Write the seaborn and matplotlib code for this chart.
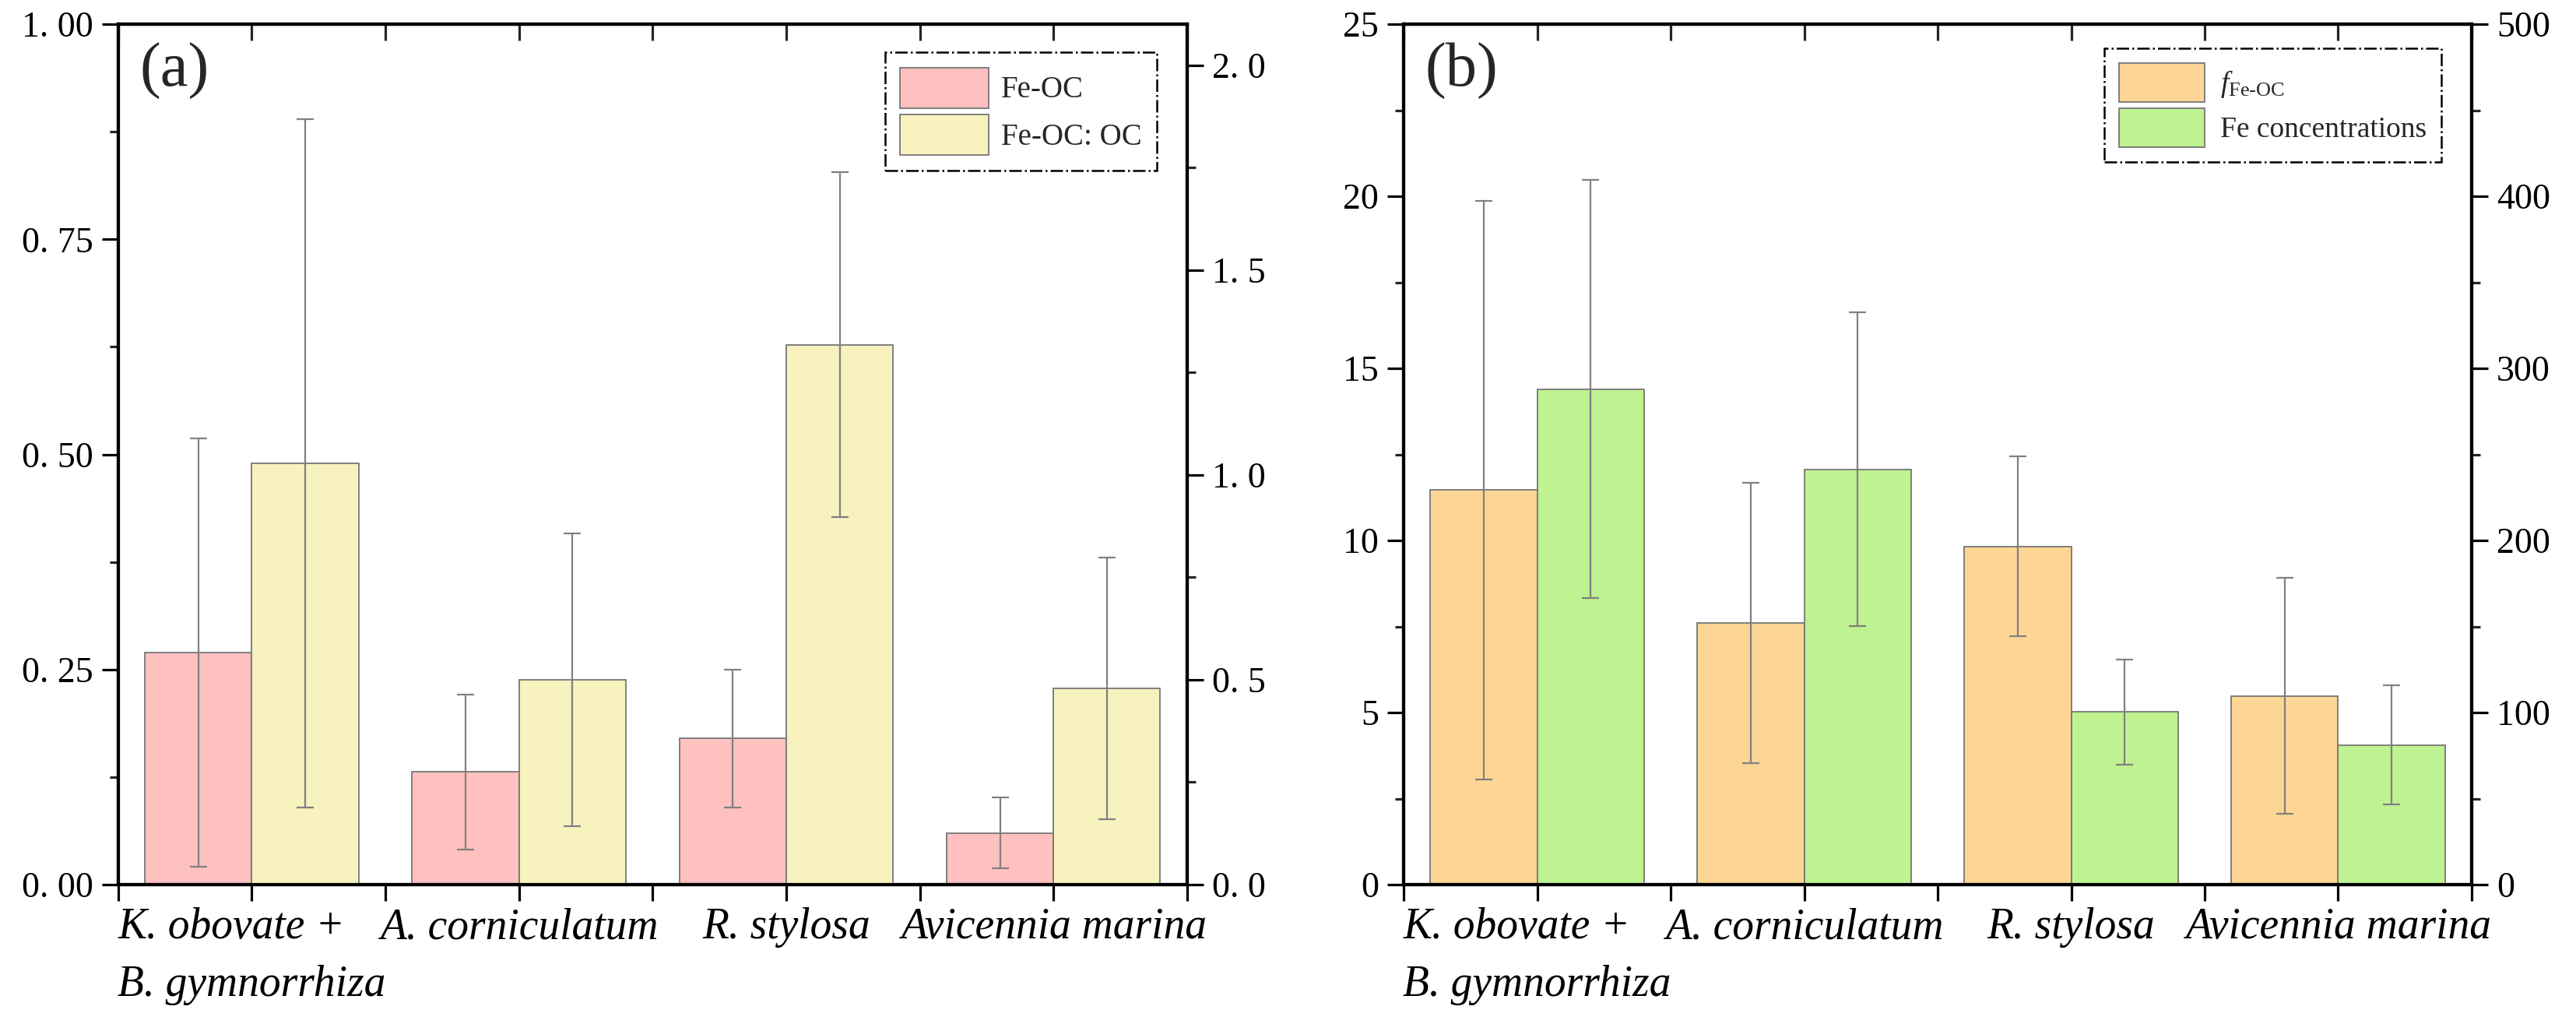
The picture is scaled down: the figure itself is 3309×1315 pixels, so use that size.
import numpy as np
import pandas as pd
import matplotlib
matplotlib.use("Agg")
import matplotlib.pyplot as plt
import seaborn as sns
from matplotlib.patches import Patch
from matplotlib.ticker import MultipleLocator

sns.set_theme(style="ticks")
plt.rcParams["font.family"] = ["Liberation Serif", "DejaVu Serif"]
plt.rcParams["mathtext.fontset"] = "custom"
plt.rcParams["mathtext.rm"] = "Liberation Serif"
plt.rcParams["mathtext.it"] = "Liberation Serif:italic"

# categories
species = ["K. obovate +\nB. gymnorrhiza", "A. corniculatum", "R. stylosa", "Avicennia marina"]

# panel (a): Fe-OC on the left axis, Fe-OC: OC on the right axis
fe_oc = [0.270, 0.131, 0.170, 0.060]
fe_oc_err = [0.249, 0.090, 0.080, 0.041]
fe_oc_ratio = [1.028, 0.500, 1.318, 0.479]
fe_oc_ratio_err = [0.840, 0.358, 0.421, 0.320]

# panel (b): f Fe-OC on the left axis, Fe concentrations on the right axis
f_fe_oc = [11.46, 7.60, 9.83, 5.48]
f_fe_oc_err = [8.41, 4.08, 2.61, 3.43]
fe_conc = [287.9, 241.3, 100.3, 81.1]
fe_conc_err = [121.5, 91.2, 30.4, 34.7]

# tick labels
a_left_ticks = [0, 0.25, 0.5, 0.75, 1.0]
a_left_labels = ["0. 00", "0. 25", "0. 50", "0. 75", "1. 00"]
a_right_ticks = [0, 0.5, 1.0, 1.5, 2.0]
a_right_labels = ["0. 0", "0. 5", "1. 0", "1. 5", "2. 0"]
b_left_ticks = [0, 5, 10, 15, 20, 25]
b_left_labels = ["0", "5", "10", "15", "20", "25"]
b_right_ticks = [0, 100, 200, 300, 400, 500]
b_right_labels = ["0", "100", "200", "300", "400", "500"]

EDGE = "#767676"
ERR = "#808080"
SPINE_W = 3.0
TICK_W = 2.3
TICK_L = 15


def draw_bars(ax, name, vals, errs, hue_order, palette):
    df = pd.DataFrame({"species": species, "series": name, "value": vals})
    sns.barplot(data=df, x="species", y="value", hue="series", hue_order=hue_order,
                order=species, palette=palette, width=0.8, dodge=True, errorbar=None,
                saturation=1, edgecolor=EDGE, linewidth=1.3, legend=False, ax=ax)
    centers = sorted(p.get_x() + p.get_width() / 2 for p in ax.patches)
    ax.errorbar(centers, vals, yerr=errs, fmt="none", ecolor=ERR, elinewidth=1.6,
                capsize=8, capthick=1.6, zorder=5)


def panel(ax, names, colors, lvals, lerr, rvals, rerr, lticks, llabels, rticks, rlabels,
          rtop, tag, leg_labels, leg_anchor, leg_size, leg_textpad):
    palette = dict(zip(names, colors))
    draw_bars(ax, names[0], lvals, lerr, names, palette)
    ax2 = ax.twinx()
    draw_bars(ax2, names[1], rvals, rerr, names, palette)

    ax.set_xlim(-0.5, 3.5)
    ax.set_ylim(lticks[0], lticks[-1])
    ax2.set_ylim(rticks[0], rtop)
    ax.set_xlabel("")
    ax.set_ylabel("")
    ax2.set_ylabel("")

    ax.set_xticks(range(len(species)), species)
    ax.set_xticks(np.arange(-0.5, 3.6, 1.0), minor=True)
    ax.tick_params(axis="x", which="both", direction="out", length=TICK_L, width=TICK_W,
                   top=False, labelsize=40, pad=6, colors="black")
    for lbl in ax.get_xticklabels():
        lbl.set_fontstyle("italic")
        lbl.set_multialignment("left")
        lbl.set_linespacing(1.55)

    sec = ax.secondary_xaxis("top")
    sec.set_xticks(np.arange(-0.5, 3.6, 0.5))
    sec.tick_params(direction="in", length=TICK_L, width=TICK_W, labeltop=False)
    sec.spines["top"].set_linewidth(SPINE_W)

    ax.set_yticks(lticks, llabels)
    ax.yaxis.set_minor_locator(MultipleLocator((lticks[1] - lticks[0]) / 2))
    ax2.set_yticks(rticks, rlabels)
    ax2.yaxis.set_minor_locator(MultipleLocator((rticks[1] - rticks[0]) / 2))
    for a in (ax, ax2):
        a.tick_params(axis="y", which="major", direction="out", length=TICK_L,
                      width=TICK_W, labelsize=33, pad=8, colors="black")
        a.tick_params(axis="y", which="minor", direction="out", length=8, width=TICK_W)
        for s in a.spines.values():
            s.set_linewidth(SPINE_W)
            s.set_color("black")
    ax2.xaxis.set_visible(False)

    ax.text(0.02, 0.978, tag, transform=ax.transAxes, fontsize=58, ha="left", va="top")

    handles = [Patch(facecolor=c, edgecolor=EDGE, linewidth=1.3, label=l)
               for c, l in zip(colors, leg_labels)]
    leg = ax2.legend(handles=handles, loc="upper right", bbox_to_anchor=leg_anchor,
                     borderaxespad=0, fontsize=leg_size, handlelength=2.93, handleheight=1.7,
                     handletextpad=leg_textpad, labelspacing=0.2, borderpad=0.5,
                     fancybox=False, framealpha=1, edgecolor="black")
    leg.get_frame().set_linestyle("-.")
    leg.get_frame().set_linewidth(1.8)


fig = plt.figure(figsize=(33.09, 13.15), dpi=100)
ax_a = fig.add_axes([0.0459, 0.1361, 0.4149, 0.8403])
ax_b = fig.add_axes([0.5449, 0.1361, 0.4146, 0.8403])

panel(ax_a, ["Fe-OC", "Fe-OC: OC"], ["#FFC0C0", "#F7F2BE"],
      fe_oc, fe_oc_err, fe_oc_ratio, fe_oc_ratio_err,
      a_left_ticks, a_left_labels, a_right_ticks, a_right_labels, 2.1,
      "(a)", ["Fe-OC", "Fe-OC: OC"], (0.9716, 0.9674), 28, 0.4)

panel(ax_b, ["f Fe-OC", "Fe concentrations"], ["#FDD695", "#BFF290"],
      f_fe_oc, f_fe_oc_err, fe_conc, fe_conc_err,
      b_left_ticks, b_left_labels, b_right_ticks, b_right_labels, 500,
      "(b)", [r"$f_{\text{Fe-OC}}$", "Fe concentrations"], (0.9716, 0.972), 27, 0.55)

fig.savefig("out.png", dpi=100)
